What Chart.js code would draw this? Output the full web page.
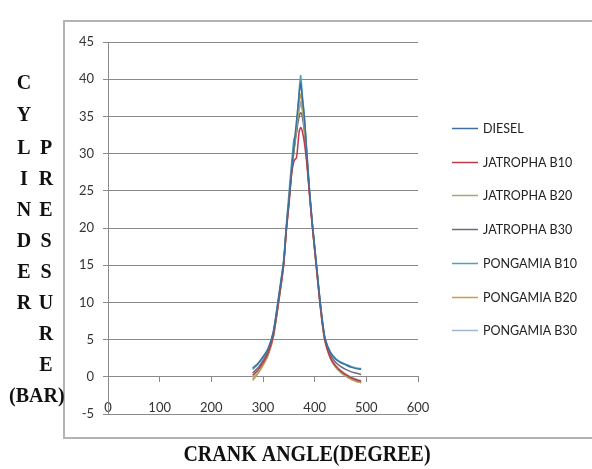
<!DOCTYPE html>
<html><head><meta charset="utf-8">
<script src="https://cdn.jsdelivr.net/npm/chart.js@4/dist/chart.umd.min.js"></script>
<style>html,body{margin:0;padding:0;background:#fff;}#wrap{width:592px;height:469px;position:relative;}</style>
</head><body><div id="wrap"><canvas id="c" width="592" height="469"></canvas></div>
<script>
const angles = [280,290,300,310,320,330,340,345,350,355,360,365,370,373,376,380,385,390,395,400,405,410,415,420,430,440,450,460,470,480,490];
const seriesNames = ['DIESEL','JATROPHA B10','JATROPHA B20','JATROPHA B30','PONGAMIA B10','PONGAMIA B20','PONGAMIA B30'];
const seriesColors = ['#3f6f9f','#c03a4a','#a9a872','#6f6a7c','#4ba3bd','#d39a3c','#9fb6cc'];
const diesel = [1.2,1.8,2.7,3.8,6.0,10.5,15.5,20.0,23.5,27.5,31.0,34.5,38.0,39.5,37.5,35.0,30.0,25.0,21.0,17.5,14.0,10.5,7.5,5.2,3.3,2.4,1.9,1.6,1.3,1.1,1.0];
const jatrophaB10 = [0.2,0.9,1.9,3.2,5.5,10.0,15.0,19.5,23.0,27.0,29.0,29.5,33.0,33.5,33.0,31.5,28.5,24.5,20.5,17.0,13.5,10.0,7.0,4.8,2.6,1.5,0.8,0.3,-0.1,-0.4,-0.6];
const jatrophaB20 = [-0.3,0.5,1.6,3.0,5.4,10.0,15.2,19.8,23.5,27.5,30.5,33.5,36.0,37.0,36.0,33.5,29.0,24.5,20.5,17.0,13.5,10.0,7.0,4.7,2.5,1.3,0.6,0.1,-0.3,-0.6,-0.8];
const jatrophaB30 = [0.5,1.2,2.2,3.5,5.8,10.3,15.3,19.8,23.5,27.5,30.5,33.0,35.0,35.5,35.0,33.0,29.0,24.8,20.8,17.3,13.8,10.3,7.3,5.0,3.0,2.0,1.4,1.0,0.7,0.5,0.3];
const pongamiaB10 = [1.0,1.7,2.6,3.8,6.1,10.7,15.8,20.3,24.5,28.5,32.0,32.8,38.5,40.5,38.0,35.0,30.0,25.2,21.0,17.5,14.0,10.5,7.5,5.2,3.4,2.5,2.0,1.7,1.4,1.2,1.1];
const pongamiaB20 = [-0.5,0.4,1.5,2.9,5.3,9.8,15.0,19.5,23.2,27.2,30.5,33.5,37.0,38.0,36.5,34.0,29.5,24.8,20.7,17.2,13.7,10.2,7.2,4.9,2.7,1.4,0.7,0.1,-0.3,-0.6,-0.8];
const pongamiaB30 = [0.0,0.8,1.8,3.2,5.6,10.2,15.3,19.8,23.5,27.5,30.8,33.5,36.0,36.5,36.0,33.5,29.3,24.7,20.7,17.2,13.7,10.2,7.2,4.9,2.8,1.6,0.9,0.4,0.0,-0.3,-0.5];
const seriesValues = [diesel,jatrophaB10,jatrophaB20,jatrophaB30,pongamiaB10,pongamiaB20,pongamiaB30];
const xTicks = [0,100,200,300,400,500,600];
const yTicks = [-5,0,5,10,15,20,25,30,35,40,45];
const xTitle = 'CRANK ANGLE(DEGREE)';
const yTitleCol1 = ['C','Y','L','I','N','D','E','R'];
const yTitleCol2 = ['P','R','E','S','S','U','R','E'];
const yTitleUnit = '(BAR)';

const tickFont = {family:'Lato', size:13};
const gridColor = '#8a8a8a';

const datasets = seriesNames.map((name,i)=>({
  label:name,
  data: angles.map((a,j)=>({x:a,y:seriesValues[i][j]})),
  borderColor: seriesColors[i],
  backgroundColor: seriesColors[i],
  borderWidth:1.5,
  pointRadius:0,
  tension:0.2,
  fill:false
}));

const decor = {
  id:'decor',
  beforeDraw(chart){
    const ctx = chart.ctx;
    ctx.save();
    ctx.fillStyle='#fff';
    ctx.fillRect(0,0,chart.width,chart.height);
    ctx.strokeStyle='#b3b3b3';
    ctx.lineWidth=2;
    ctx.strokeRect(64,21,600,417);
    ctx.restore();
  },
  afterDraw(chart){
    const ctx = chart.ctx;
    ctx.save();
    ctx.fillStyle='#111';
    ctx.font='bold 20px "Liberation Serif", "Times New Roman", serif';
    ctx.textAlign='center';
    ctx.textBaseline='middle';
    ctx.save();
    ctx.translate(307,455);
    ctx.scale(1,1.2);
    ctx.fillText(xTitle,0,0);
    ctx.restore();
    const ys1 = [84,116,149,180,211,242,273,304];
    const ys2 = [149,180,211,242,273,304,335,366];
    yTitleCol1.forEach((ch,i)=>ctx.fillText(ch,24,ys1[i]));
    yTitleCol2.forEach((ch,i)=>ctx.fillText(ch,46,ys2[i]));
    ctx.textAlign='left';
    ctx.fillText(yTitleUnit,9,397);
    const ly0 = 128, lstep = 33.7;
    ctx.font='12.5px Lato';
    ctx.textBaseline='middle';
    seriesNames.forEach((name,i)=>{
      const y = Math.round(ly0 + i*lstep)+0.5;
      ctx.strokeStyle=seriesColors[i];
      ctx.lineWidth=1.5;
      ctx.beginPath();ctx.moveTo(452,y);ctx.lineTo(478,y);ctx.stroke();
      ctx.fillStyle='#222';
      ctx.fillText(name,483,y);
    });
    ctx.restore();
  }
};

new Chart(document.getElementById('c'),{
  type:'line',
  data:{datasets},
  options:{
    responsive:false,
    animation:false,
    devicePixelRatio:1,
    layout:{padding:{left:64,top:42,right:174,bottom:55}},
    plugins:{legend:{display:false},tooltip:{enabled:false}},
    scales:{
      x:{
        type:'linear',min:0,max:600,
        position:{y:0},
        afterBuildTicks:s=>{s.ticks = xTicks.map(v=>({value:v}));},
        ticks:{padding:18,font:tickFont,color:'#333',maxRotation:0},
        grid:{drawOnChartArea:false,drawTicks:true,tickLength:5,color:gridColor},
        border:{color:gridColor}
      },
      y:{
        type:'linear',min:-5,max:45,
        afterBuildTicks:s=>{s.ticks = yTicks.map(v=>({value:v}));},
        afterFit:s=>{s.width=44;},
        ticks:{padding:9,font:tickFont,color:'#333'},
        grid:{color:gridColor,tickLength:5,drawTicks:true},
        border:{color:gridColor}
      }
    }
  },
  plugins:[decor]
});
</script></body></html>
